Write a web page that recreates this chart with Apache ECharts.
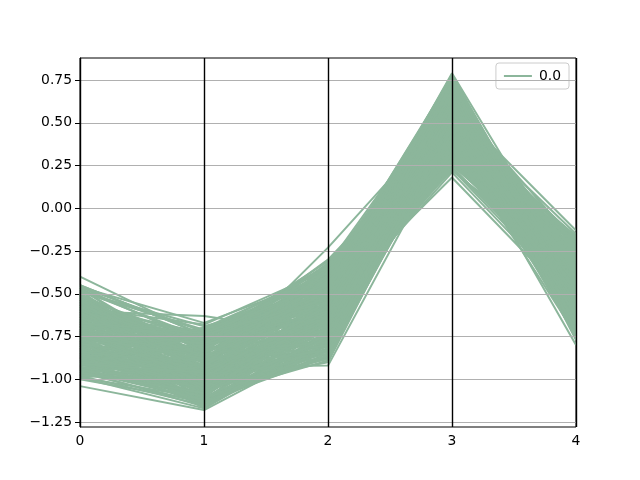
<!DOCTYPE html>
<html>
<head>
<meta charset="utf-8">
<script src="https://cdn.jsdelivr.net/npm/echarts@6/dist/echarts.min.js"></script>
<style>html,body{margin:0;padding:0;background:#fff}#c{width:640px;height:480px}</style>
</head>
<body>
<div id="c"></div>
<script>
const categories = [0, 1, 2, 3, 4];
const yTicks = [-1.25, -1.0, -0.75, -0.5, -0.25, 0.0, 0.25, 0.5, 0.75];
const className = '0.0';
const lineValues = [
  [-0.40,-0.75,-0.45,0.50,-0.40],
  [-0.60,-0.63,-0.74,0.40,-0.35],
  [-0.46,-0.67,-0.40,0.62,-0.20],
  [-1.04,-1.18,-0.80,0.45,-0.50],
  [-0.99,-0.93,-0.92,0.42,-0.62],
  [-0.70,-0.95,-0.23,0.57,-0.30],
  [-0.80,-0.95,-0.50,0.79,-0.41],
  [-0.85,-1.05,-0.54,0.18,-0.57],
  [-0.62,-0.80,-0.38,0.60,-0.13],
  [-0.72,-1.00,-0.62,0.47,-0.80],
  [-0.90,-1.10,-0.60,0.21,-0.55],
  [-0.55,-0.85,-0.48,0.24,-0.50],
  [-0.65,-0.90,-0.70,0.32,-0.45],
  [-0.48,-0.72,-0.35,0.55,-0.15],
  [-0.95,-1.12,-0.86,0.66,-0.72],
  [-0.52,-0.78,-0.42,0.74,-0.60],
  [-0.88,-1.15,-0.83,0.50,-0.75],
  [-0.58,-0.88,-0.56,0.70,-0.35],
  [-0.76,-1.02,-0.66,0.35,-0.25],
  [-0.68,-0.92,-0.45,0.45,-0.48],
  [-0.82,-0.76,-0.33,0.68,-0.28],
  [-0.93,-1.08,-0.75,0.58,-0.65],
  [-0.50,-0.96,-0.64,0.38,-0.18],
  [-0.97,-0.82,-0.40,0.76,-0.70],
  [-0.63,-1.13,-0.87,0.45,-0.38],
  [-0.78,-0.70,-0.52,0.52,-0.22],
  [-0.86,-0.98,-0.36,0.64,-0.52],
  [-0.54,-1.06,-0.78,0.73,-0.66],
  [-0.74,-0.86,-0.68,0.28,-0.42],
  [-0.91,-0.74,-0.58,0.48,-0.32],
  [-0.66,-1.16,-0.72,0.56,-0.74],
  [-0.47,-0.90,-0.52,0.43,-0.27],
  [-0.84,-1.00,-0.44,0.71,-0.58],
  [-0.57,-0.73,-0.62,0.33,-0.44],
  [-0.96,-1.14,-0.80,0.40,-0.46],
  [-0.71,-0.94,-0.46,0.78,-0.50],
  [-0.61,-1.03,-0.82,0.61,-0.62],
  [-0.89,-0.80,-0.47,0.26,-0.36],
  [-0.53,-0.83,-0.30,0.46,-0.17],
  [-0.79,-1.11,-0.70,0.69,-0.68],
  [-0.98,-1.00,-0.65,0.54,-0.54],
  [-0.69,-0.77,-0.40,0.36,-0.23],
  [-0.81,-1.08,-0.56,0.63,-0.45],
  [-0.49,-0.69,-0.50,0.66,-0.31],
  [-0.92,-0.88,-0.84,0.48,-0.60],
  [-0.64,-0.97,-0.43,0.75,-0.55],
  [-0.75,-1.17,-0.76,0.44,-0.70],
  [-0.59,-0.81,-0.60,0.59,-0.40],
  [-0.87,-0.91,-0.37,0.50,-0.26],
  [-0.73,-1.05,-0.88,0.50,-0.64],
  [-0.56,-0.75,-0.46,0.29,-0.34],
  [-0.94,-1.09,-0.62,0.72,-0.48],
  [-0.67,-0.84,-0.32,0.53,-0.19],
  [-0.83,-1.12,-0.74,0.65,-0.73],
  [-0.51,-0.93,-0.55,0.41,-0.29],
  [-0.77,-0.71,-0.41,0.77,-0.63],
  [-0.60,-1.01,-0.68,0.31,-0.39],
  [-0.90,-0.79,-0.53,0.57,-0.43],
  [-1.00,-1.13,-0.85,0.49,-0.67],
  [-0.45,-0.74,-0.39,0.67,-0.33],
  [-0.70,-1.07,-0.60,0.23,-0.53],
  [-0.85,-0.89,-0.46,0.60,-0.37],
  [-0.62,-0.95,-0.58,0.74,-0.61],
  [-0.97,-1.04,-0.90,0.52,-0.58],
  [-0.58,-0.68,-0.36,0.48,-0.21],
  [-0.80,-1.16,-0.64,0.55,-0.71],
  [-0.72,-0.87,-0.49,0.39,-0.47],
  [-0.88,-0.96,-0.71,0.70,-0.56],
  [-0.52,-1.10,-0.61,0.62,-0.42],
  [-0.76,-0.78,-0.31,0.44,-0.16],
  [-0.47,-0.78,-0.58,0.52,-0.45],
  [-0.93,-1.02,-0.79,0.44,-0.61],
  [-0.71,-0.83,-0.44,0.66,-0.38],
  [-0.58,-1.09,-0.69,0.37,-0.52],
  [-0.84,-0.74,-0.51,0.29,-0.28],
  [-0.66,-0.99,-0.81,0.58,-0.69],
  [-0.95,-0.86,-0.35,0.48,-0.22],
  [-0.50,-0.91,-0.73,0.72,-0.57],
  [-0.77,-1.14,-0.66,0.26,-0.43],
  [-0.63,-0.72,-0.47,0.41,-0.19],
  [-0.89,-1.06,-0.57,0.63,-0.64],
  [-0.54,-0.80,-0.39,0.35,-0.33],
  [-0.99,-1.11,-0.77,0.54,-0.74],
  [-0.74,-0.93,-0.62,0.77,-0.47],
  [-0.60,-0.87,-0.84,0.46,-0.55],
  [-0.86,-0.70,-0.42,0.31,-0.31],
  [-0.69,-1.04,-0.52,0.68,-0.59],
  [-0.92,-0.97,-0.70,0.39,-0.41],
  [-0.48,-0.76,-0.34,0.57,-0.24],
  [-0.81,-1.13,-0.82,0.50,-0.66],
  [-0.57,-0.89,-0.61,0.25,-0.37],
  [-0.96,-0.81,-0.48,0.75,-0.72],
  [-0.65,-1.01,-0.40,0.53,-0.30],
  [-0.78,-0.77,-0.86,0.61,-0.51],
  [-0.52,-1.07,-0.55,0.43,-0.46],
  [-0.88,-0.94,-0.66,0.71,-0.62],
  [-0.70,-0.73,-0.37,0.34,-0.20],
  [-0.98,-1.15,-0.72,0.64,-0.77],
  [-0.61,-0.84,-0.50,0.22,-0.35],
  [-0.83,-1.00,-0.59,0.47,-0.27],
  [-0.46,-0.79,-0.45,0.62,-0.34],
  [-0.91,-1.10,-0.89,0.56,-0.70],
  [-0.73,-0.90,-0.33,0.51,-0.17],
  [-0.56,-0.96,-0.76,0.67,-0.53],
  [-0.85,-0.72,-0.60,0.38,-0.49],
  [-0.67,-1.12,-0.63,0.30,-0.58],
  [-0.94,-0.85,-0.43,0.74,-0.44],
  [-0.51,-0.98,-0.68,0.45,-0.25],
  [-0.79,-1.05,-0.80,0.59,-0.76],
  [-0.62,-0.75,-0.54,0.27,-0.29],
  [-0.90,-1.14,-0.49,0.42,-0.39],
  [-0.55,-0.82,-0.41,0.69,-0.60],
  [-0.75,-0.95,-0.74,0.33,-0.36],
  [-0.97,-0.78,-0.56,0.60,-0.67],
  [-0.64,-1.08,-0.35,0.49,-0.21],
  [-0.87,-0.92,-0.83,0.65,-0.50],
  [-0.49,-0.71,-0.46,0.36,-0.42],
  [-0.82,-1.03,-0.67,0.76,-0.65],
  [-0.68,-0.87,-0.58,0.24,-0.48],
  [-0.95,-1.16,-0.78,0.41,-0.57],
  [-0.59,-0.76,-0.38,0.55,-0.26],
  [-0.80,-0.99,-0.87,0.63,-0.71],
  [-0.53,-0.88,-0.53,0.73,-0.52],
  [-0.92,-0.70,-0.64,0.28,-0.34],
  [-0.72,-1.11,-0.44,0.58,-0.63],
  [-0.86,-0.83,-0.71,0.51,-0.23],
  [-0.58,-1.02,-0.85,0.68,-0.45],
  [-0.99,-0.91,-0.52,0.37,-0.66],
  [-0.63,-0.79,-0.36,0.46,-0.28],
  [-0.77,-1.07,-0.61,0.78,-0.54],
  [-0.50,-0.86,-0.77,0.40,-0.38],
  [-0.84,-1.13,-0.58,0.32,-0.61],
  [-0.69,-0.74,-0.49,0.70,-0.73],
  [-0.93,-0.97,-0.40,0.26,-0.20],
  [-0.47,-0.93,-0.65,0.61,-0.59],
  [-0.76,-0.81,-0.81,0.53,-0.47],
  [-0.88,-1.09,-0.69,0.44,-0.32],
  [-0.60,-0.77,-0.34,0.65,-0.40],
  [-0.81,-1.04,-0.46,0.39,-0.74],
  [-0.54,-0.90,-0.72,0.56,-0.21],
  [-0.98,-1.01,-0.62,0.67,-0.56],
  [-0.66,-0.84,-0.55,0.29,-0.51],
  [-0.91,-0.75,-0.44,0.48,-0.66],
  [-0.52,-1.12,-0.79,0.52,-0.35],
  [-0.74,-0.96,-0.36,0.62,-0.49],
  [-0.85,-1.06,-0.88,0.47,-0.60],
  [-0.57,-0.80,-0.63,0.72,-0.69],
  [-0.96,-0.88,-0.50,0.34,-0.30],
  [-0.70,-1.15,-0.70,0.57,-0.44],
  [-0.45,-0.74,-0.43,0.44,-0.37],
  [-0.89,-0.94,-0.76,0.75,-0.62],
  [-0.62,-1.03,-0.47,0.23,-0.41],
  [-0.79,-0.72,-0.57,0.59,-0.22],
  [-0.95,-1.10,-0.64,0.69,-0.75],
  [-0.56,-0.86,-0.39,0.50,-0.31],
  [-0.83,-0.98,-0.84,0.42,-0.52],
  [-0.67,-0.77,-0.62,0.66,-0.64],
  [-0.99,-1.17,-0.74,0.36,-0.45],
  [-0.51,-0.82,-0.51,0.31,-0.18],
  [-0.76,-1.09,-0.58,0.74,-0.58],
  [-0.88,-0.70,-0.38,0.54,-0.43],
  [-0.61,-0.92,-0.80,0.63,-0.27],
  [-0.93,-1.05,-0.54,0.40,-0.70],
  [-0.72,-0.83,-0.67,0.27,-0.39],
  [-0.48,-1.00,-0.42,0.71,-0.46],
  [-0.86,-1.13,-0.86,0.60,-0.63],
  [-0.64,-0.78,-0.45,0.38,-0.24],
  [-0.97,-0.87,-0.69,0.77,-0.53],
  [-0.53,-1.07,-0.62,0.49,-0.68],
  [-0.80,-0.76,-0.36,0.45,-0.35],
  [-0.68,-1.14,-0.82,0.64,-0.50],
  [-0.90,-0.95,-0.47,0.58,-0.29],
  [-0.59,-0.89,-0.71,0.35,-0.56],
  [-0.82,-1.01,-0.39,0.66,-0.72],
  [-0.46,-0.72,-0.55,0.53,-0.26],
  [-0.94,-1.12,-0.66,0.30,-0.47],
  [-0.73,-0.85,-0.78,0.70,-0.41],
  [-0.55,-0.97,-0.35,0.42,-0.33],
  [-0.87,-0.80,-0.60,0.62,-0.76],
  [-0.65,-1.06,-0.51,0.76,-0.60],
  [-0.98,-0.93,-0.83,0.55,-0.39],
  [-0.60,-0.79,-0.48,0.32,-0.50],
  [-0.78,-1.16,-0.73,0.46,-0.63],
  [-0.50,-0.84,-0.64,0.68,-0.30],
  [-0.84,-0.91,-0.41,0.27,-0.45],
  [-0.71,-1.02,-0.85,0.51,-0.71],
  [-0.92,-0.74,-0.53,0.73,-0.57],
  [-0.57,-1.10,-0.57,0.39,-0.20],
  [-0.75,-0.88,-0.37,0.61,-0.52],
  [-0.96,-1.08,-0.76,0.43,-0.43],
  [-0.64,-0.86,-0.60,0.49,-0.44],
  [-0.79,-0.92,-0.55,0.56,-0.40],
  [-0.71,-0.79,-0.52,0.43,-0.36],
  [-0.86,-1.03,-0.63,0.60,-0.50],
  [-0.59,-0.94,-0.66,0.52,-0.48],
  [-0.74,-0.99,-0.57,0.47,-0.55],
  [-0.67,-0.73,-0.44,0.40,-0.31],
  [-0.91,-0.96,-0.61,0.53,-0.45]
];

const lineColor = '#8cb69b';
const fmt = v => (v < 0 ? '\u2212' : '') + Math.abs(v).toFixed(2);

const series = [];
series.push({
  name: 'gridlines', type: 'line', data: [], z: 1, silent: true,
  markLine: {
    silent: true, symbol: 'none', animation: false,
    label: { show: false },
    lineStyle: { color: '#b0b0b0', width: 1, type: 'solid' },
    data: yTicks.map(v => ({ yAxis: v }))
  }
});
lineValues.forEach(row => {
  series.push({
    name: className, type: 'line', z: 2,
    data: categories.map((c, i) => [c, row[i]]),
    showSymbol: false, symbol: 'none',
    lineStyle: { color: lineColor, width: 2 },
    itemStyle: { color: lineColor },
    emphasis: { disabled: true }
  });
});
series.push({
  name: 'vlines', type: 'line', data: [], z: 5, silent: true,
  markLine: {
    silent: true, symbol: 'none', animation: false,
    label: { show: false },
    lineStyle: { color: '#000000', width: 1.4, type: 'solid' },
    data: categories.map(c => ({ xAxis: c }))
  }
});

const chart = echarts.init(document.getElementById('c'), null, { renderer: 'canvas' });
chart.setOption({
  animation: false,
  backgroundColor: '#ffffff',
  grid: { left: 80, right: 64, top: 58, bottom: 53, show: true, borderColor: '#000', borderWidth: 1, backgroundColor: 'transparent' },
  legend: {
    data: [className], right: 71, top: 63,
    padding: [6, 8, 6, 8],
    backgroundColor: '#ffffff', borderColor: '#cccccc', borderWidth: 1, borderRadius: 3,
    icon: 'rect', itemWidth: 28, itemHeight: 2, itemGap: 8,
    textStyle: { fontFamily: 'DejaVu Sans', fontSize: 13.9, color: '#000', padding: [0, 0, 0, 2] }
  },
  xAxis: {
    type: 'value', min: 0, max: 4, interval: 1,
    axisLine: { show: true, lineStyle: { color: '#000', width: 1 } },
    axisTick: { show: true, inside: false, length: 5, lineStyle: { color: '#000' } },
    axisLabel: { fontFamily: 'DejaVu Sans', fontSize: 13.9, color: '#000', margin: 7 },
    splitLine: { show: false }
  },
  yAxis: {
    type: 'value', min: -1.279, max: 0.879,
    axisLine: { show: true, lineStyle: { color: '#000', width: 1 } },
    axisTick: { show: true, inside: false, length: 5, lineStyle: { color: '#000' }, customValues: yTicks },
    axisLabel: { fontFamily: 'DejaVu Sans', fontSize: 13.9, color: '#000', margin: 8, customValues: yTicks, formatter: fmt },
    splitLine: { show: false }
  },
  series: series
});
</script>
</body>
</html>
